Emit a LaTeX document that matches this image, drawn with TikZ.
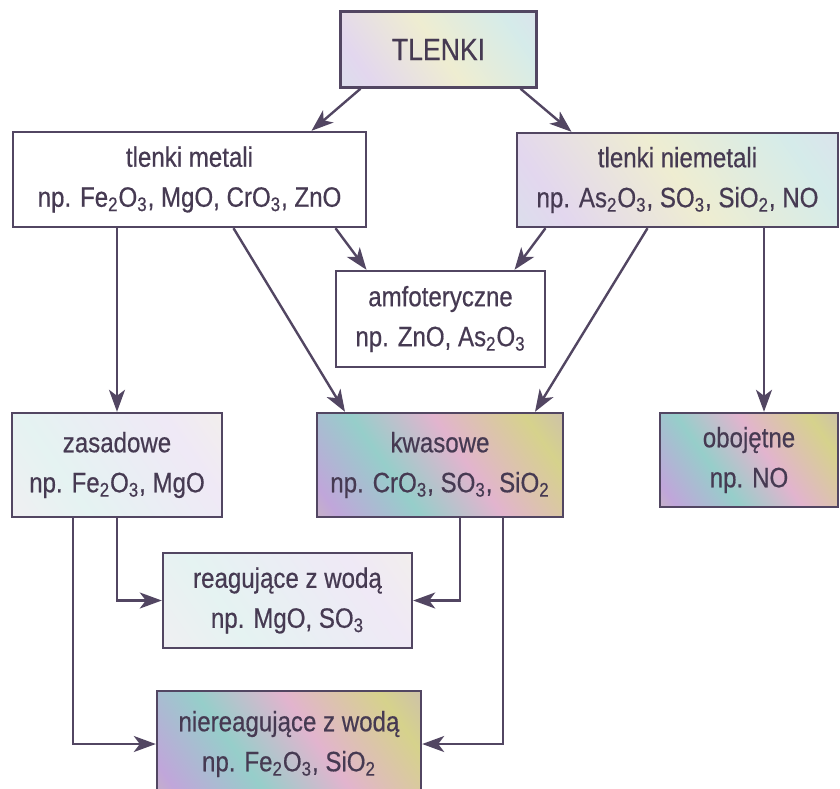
\documentclass[tikz,border=0pt]{standalone}
\usepackage{fontspec}
\setmainfont{Liberation Sans}[FakeStretch=0.86,FakeBold=0.5]
\usepackage{xcolor}
\usepackage{tikz}
\usetikzlibrary{arrows.meta,positioning}
\definecolor{ink}{RGB}{70,58,82}
\definecolor{edge}{RGB}{82,70,98}
\definecolor{ivA}{RGB}{214,210,140}
\definecolor{ivB}{RGB}{192,166,218}
\definecolor{ivC}{RGB}{150,206,202}
\definecolor{ivD}{RGB}{226,180,206}
\pgfdeclarehorizontalshading{iridvivid}{100bp}{color(0bp)=(ivA); color(20bp)=(ivB); color(38bp)=(ivC); color(56bp)=(ivD); color(76bp)=(ivA); color(100bp)=(ivB)}
\pgfdeclarehorizontalshading{iridsoft}{100bp}{color(0bp)=(ivC!45); color(25bp)=(ivB!45); color(50bp)=(ivA!40); color(75bp)=(ivC!40); color(100bp)=(ivB!45)}
\pgfdeclarehorizontalshading{iridpale}{100bp}{color(0bp)=(ivD!25); color(35bp)=(ivC!25); color(70bp)=(ivB!25); color(100bp)=(ivA!25)}
\newcommand{\sbs}[1]{\textsubscript{#1}}

\begin{document}
\begin{tikzpicture}[x=0.5pt, y=-0.5pt, >={Stealth[length=11pt,width=8pt,inset=3pt]},
  box/.style={draw=edge, line width=1.2pt, align=center, inner sep=0pt, text=ink,
              font=\fontsize{14}{20}\selectfont},
  vivid/.style={shade, shading=iridvivid, shading angle=35},
  soft/.style={shade, shading=iridsoft, shading angle=35},
  pale/.style={shade, shading=iridpale, shading angle=35},
  link/.style={draw=edge, line width=1.2pt, ->}]
  \useasboundingbox (0,0) rectangle (840,788);
  \clip (0,0) rectangle (840,788);
  \node[box, soft, minimum width=98pt, minimum height=38pt, font=\fontsize{15.5}{18}\selectfont] (tlenki) at (438.5,49.5) {TLENKI};
  \node[box, fill=white, minimum width=176.5pt, minimum height=47.5pt] (metale) at (189.5,179.5) {tlenki metali\\np. Fe\sbs{2}O\sbs{3}, MgO, CrO\sbs{3}, ZnO};
  \node[box, soft, minimum width=160.5pt, minimum height=47pt] (niemetale) at (677.5,180) {tlenki niemetali\\np. As\sbs{2}O\sbs{3}, SO\sbs{3}, SiO\sbs{2}, NO};
  \node[box, fill=white, minimum width=104.5pt, minimum height=48pt] (amfo) at (440.5,319) {amfoteryczne\\np. ZnO, As\sbs{2}O\sbs{3}};
  \node[box, pale, minimum width=105pt, minimum height=52pt] (zasadowe) at (117,465) {zasadowe\\np. Fe\sbs{2}O\sbs{3}, MgO};
  \node[box, vivid, minimum width=123pt, minimum height=52pt] (kwasowe) at (440,465) {kwasowe\\np. CrO\sbs{3}, SO\sbs{3}, SiO\sbs{2}};
  \node[box, vivid, minimum width=89pt, minimum height=47pt] (obojetne) at (749,460) {obojętne\\np. NO};
  \node[box, pale, minimum width=124.5pt, minimum height=47.5pt] (reag) at (287.5,600.5) {reagujące z wodą\\np. MgO, SO\sbs{3}};
  \node[box, vivid, minimum width=132pt, minimum height=53pt] (niereag) at (289,744) {niereagujące z wodą\\np. Fe\sbs{2}O\sbs{3}, SiO\sbs{2}};
  \draw[link] ([xshift=-39pt]tlenki.south) -- ([xshift=61pt]metale.north);
  \draw[link] ([xshift=41pt]tlenki.south) -- ([xshift=-53pt]niemetale.north);
  \draw[link] (metale.south -| zasadowe.north) -- (zasadowe.north);
  \draw[link] ([xshift=22pt]metale.south) -- ([xshift=-47.5pt]kwasowe.north);
  \draw[link] ([xshift=73pt]metale.south) -- ([xshift=-37pt]amfo.north);
  \draw[link] ([xshift=-66pt]niemetale.south) -- ([xshift=37pt]amfo.north);
  \draw[link] ([xshift=-15pt]niemetale.south) -- ([xshift=47.5pt]kwasowe.north);
  \draw[link] ([xshift=7.5pt]obojetne.north |- niemetale.south) -- ([xshift=7.5pt]obojetne.north);
  \draw[link] (zasadowe.south) |- (reag.west);
  \draw[link] ([xshift=-22pt]zasadowe.south) |- (niereag.west);
  \draw[link] ([xshift=10pt]kwasowe.south) |- (reag.east);
  \draw[link] ([xshift=31.5pt]kwasowe.south) |- (niereag.east);
\end{tikzpicture}
\end{document}
